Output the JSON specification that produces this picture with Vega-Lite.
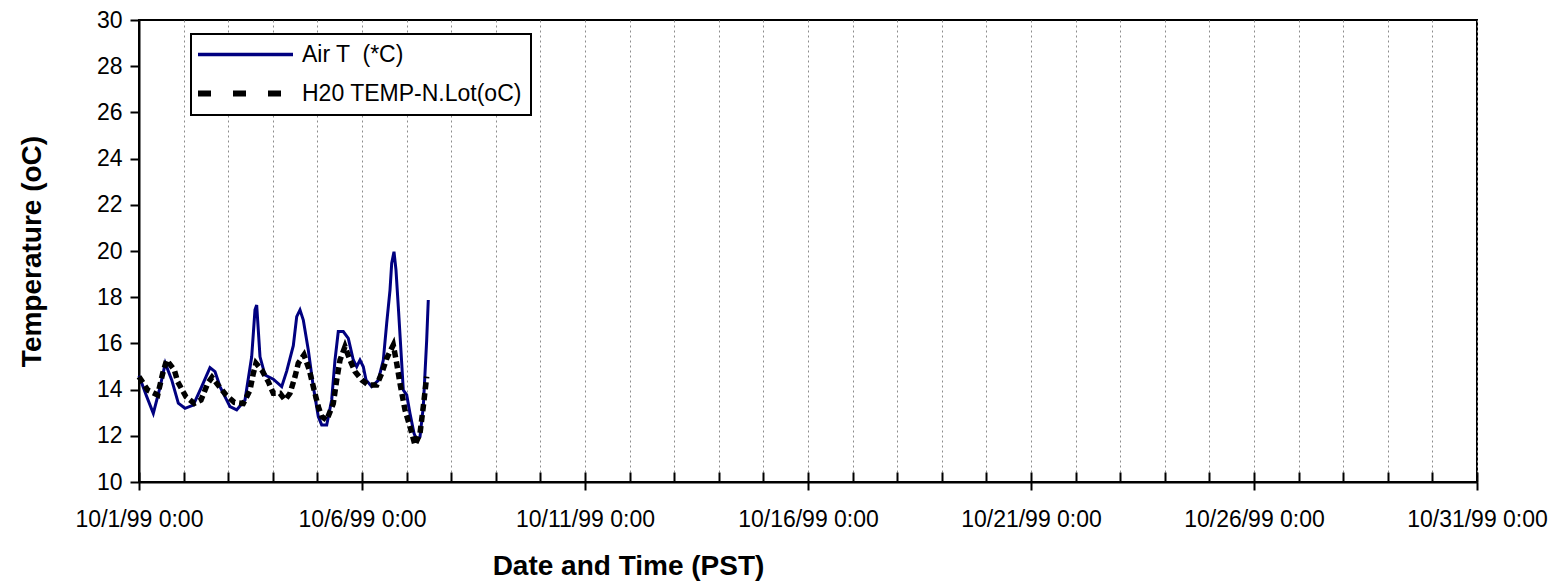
{
  "$schema": "https://vega.github.io/schema/vega-lite/v6.json",
  "width": 1338,
  "height": 462,
  "autosize": {"type": "none"},
  "padding": {"left": 139, "top": 20, "right": 79, "bottom": 102},
  "background": "white",
  "config": {
    "font": "Liberation Sans",
    "view": {"stroke": "black", "strokeWidth": 2},
    "axis": {"domainColor": "black", "domainWidth": 2, "tickColor": "black", "tickWidth": 2, "labelColor": "black", "titleColor": "black", "labelFont": "Liberation Sans", "titleFont": "Liberation Sans"}
  },
  "data": {
    "values": [
      {"t": "1999-10-01T00:00", "series": "Air T  (*C)", "v": 14.6},
      {"t": "1999-10-01T04:08", "series": "Air T  (*C)", "v": 13.7},
      {"t": "1999-10-01T07:42", "series": "Air T  (*C)", "v": 12.97},
      {"t": "1999-10-01T11:18", "series": "Air T  (*C)", "v": 14.1},
      {"t": "1999-10-01T14:09", "series": "Air T  (*C)", "v": 15.14},
      {"t": "1999-10-01T17:36", "series": "Air T  (*C)", "v": 14.42},
      {"t": "1999-10-01T21:09", "series": "Air T  (*C)", "v": 13.41},
      {"t": "1999-10-02T00:45", "series": "Air T  (*C)", "v": 13.19},
      {"t": "1999-10-02T05:13", "series": "Air T  (*C)", "v": 13.33},
      {"t": "1999-10-02T09:44", "series": "Air T  (*C)", "v": 14.13},
      {"t": "1999-10-02T14:12", "series": "Air T  (*C)", "v": 14.95},
      {"t": "1999-10-02T16:54", "series": "Air T  (*C)", "v": 14.78},
      {"t": "1999-10-02T19:35", "series": "Air T  (*C)", "v": 14.13},
      {"t": "1999-10-03T00:58", "series": "Air T  (*C)", "v": 13.26},
      {"t": "1999-10-03T04:34", "series": "Air T  (*C)", "v": 13.12},
      {"t": "1999-10-03T09:02", "series": "Air T  (*C)", "v": 13.55},
      {"t": "1999-10-03T12:38", "series": "Air T  (*C)", "v": 15.42},
      {"t": "1999-10-03T14:25", "series": "Air T  (*C)", "v": 17.45},
      {"t": "1999-10-03T15:20", "series": "Air T  (*C)", "v": 17.66},
      {"t": "1999-10-03T17:07", "series": "Air T  (*C)", "v": 15.42},
      {"t": "1999-10-03T19:48", "series": "Air T  (*C)", "v": 14.63},
      {"t": "1999-10-04T00:16", "series": "Air T  (*C)", "v": 14.45},
      {"t": "1999-10-04T04:47", "series": "Air T  (*C)", "v": 14.13},
      {"t": "1999-10-04T07:29", "series": "Air T  (*C)", "v": 14.8},
      {"t": "1999-10-04T11:02", "series": "Air T  (*C)", "v": 15.9},
      {"t": "1999-10-04T12:52", "series": "Air T  (*C)", "v": 17.16},
      {"t": "1999-10-04T14:38", "series": "Air T  (*C)", "v": 17.45},
      {"t": "1999-10-04T16:25", "series": "Air T  (*C)", "v": 17.01},
      {"t": "1999-10-04T19:06", "series": "Air T  (*C)", "v": 15.71},
      {"t": "1999-10-04T21:47", "series": "Air T  (*C)", "v": 14.13},
      {"t": "1999-10-05T00:29", "series": "Air T  (*C)", "v": 12.83},
      {"t": "1999-10-05T02:19", "series": "Air T  (*C)", "v": 12.47},
      {"t": "1999-10-05T05:00", "series": "Air T  (*C)", "v": 12.47},
      {"t": "1999-10-05T07:41", "series": "Air T  (*C)", "v": 13.55},
      {"t": "1999-10-05T09:28", "series": "Air T  (*C)", "v": 15.28},
      {"t": "1999-10-05T11:14", "series": "Air T  (*C)", "v": 16.51},
      {"t": "1999-10-05T13:56", "series": "Air T  (*C)", "v": 16.51},
      {"t": "1999-10-05T16:38", "series": "Air T  (*C)", "v": 16.22},
      {"t": "1999-10-05T19:19", "series": "Air T  (*C)", "v": 15.28},
      {"t": "1999-10-05T21:09", "series": "Air T  (*C)", "v": 14.99},
      {"t": "1999-10-05T22:55", "series": "Air T  (*C)", "v": 15.28},
      {"t": "1999-10-06T00:42", "series": "Air T  (*C)", "v": 14.99},
      {"t": "1999-10-06T02:09", "series": "Air T  (*C)", "v": 14.42},
      {"t": "1999-10-06T05:13", "series": "Air T  (*C)", "v": 14.13},
      {"t": "1999-10-06T08:46", "series": "Air T  (*C)", "v": 14.4},
      {"t": "1999-10-06T11:28", "series": "Air T  (*C)", "v": 15.28},
      {"t": "1999-10-06T13:17", "series": "Air T  (*C)", "v": 16.87},
      {"t": "1999-10-06T15:04", "series": "Air T  (*C)", "v": 18.31},
      {"t": "1999-10-06T15:59", "series": "Air T  (*C)", "v": 19.47},
      {"t": "1999-10-06T17:13", "series": "Air T  (*C)", "v": 19.97},
      {"t": "1999-10-06T18:17", "series": "Air T  (*C)", "v": 19.18},
      {"t": "1999-10-06T19:32", "series": "Air T  (*C)", "v": 17.59},
      {"t": "1999-10-06T21:22", "series": "Air T  (*C)", "v": 15.14},
      {"t": "1999-10-06T22:13", "series": "Air T  (*C)", "v": 13.98},
      {"t": "1999-10-07T00:03", "series": "Air T  (*C)", "v": 13.77},
      {"t": "1999-10-07T01:50", "series": "Air T  (*C)", "v": 12.97},
      {"t": "1999-10-07T03:59", "series": "Air T  (*C)", "v": 12.11},
      {"t": "1999-10-07T05:26", "series": "Air T  (*C)", "v": 11.82},
      {"t": "1999-10-07T07:13", "series": "Air T  (*C)", "v": 11.96},
      {"t": "1999-10-07T08:59", "series": "Air T  (*C)", "v": 13.26},
      {"t": "1999-10-07T10:49", "series": "Air T  (*C)", "v": 16.15},
      {"t": "1999-10-07T11:40", "series": "Air T  (*C)", "v": 17.88},
      {"t": "1999-10-01T00:00", "series": "H20 TEMP-N.Lot(oC)", "v": 14.56},
      {"t": "1999-10-01T04:41", "series": "H20 TEMP-N.Lot(oC)", "v": 13.98},
      {"t": "1999-10-01T10:04", "series": "H20 TEMP-N.Lot(oC)", "v": 13.77},
      {"t": "1999-10-01T12:45", "series": "H20 TEMP-N.Lot(oC)", "v": 14.7},
      {"t": "1999-10-01T14:54", "series": "H20 TEMP-N.Lot(oC)", "v": 15.28},
      {"t": "1999-10-01T19:00", "series": "H20 TEMP-N.Lot(oC)", "v": 14.85},
      {"t": "1999-10-01T20:50", "series": "H20 TEMP-N.Lot(oC)", "v": 14.34},
      {"t": "1999-10-02T01:17", "series": "H20 TEMP-N.Lot(oC)", "v": 13.69},
      {"t": "1999-10-02T05:45", "series": "H20 TEMP-N.Lot(oC)", "v": 13.4},
      {"t": "1999-10-02T09:22", "series": "H20 TEMP-N.Lot(oC)", "v": 13.55},
      {"t": "1999-10-02T12:58", "series": "H20 TEMP-N.Lot(oC)", "v": 14.27},
      {"t": "1999-10-02T15:17", "series": "H20 TEMP-N.Lot(oC)", "v": 14.53},
      {"t": "1999-10-02T19:13", "series": "H20 TEMP-N.Lot(oC)", "v": 14.13},
      {"t": "1999-10-02T22:49", "series": "H20 TEMP-N.Lot(oC)", "v": 13.77},
      {"t": "1999-10-03T03:17", "series": "H20 TEMP-N.Lot(oC)", "v": 13.45},
      {"t": "1999-10-03T08:07", "series": "H20 TEMP-N.Lot(oC)", "v": 13.4},
      {"t": "1999-10-03T11:44", "series": "H20 TEMP-N.Lot(oC)", "v": 13.98},
      {"t": "1999-10-03T13:30", "series": "H20 TEMP-N.Lot(oC)", "v": 14.7},
      {"t": "1999-10-03T14:57", "series": "H20 TEMP-N.Lot(oC)", "v": 15.14},
      {"t": "1999-10-03T18:02", "series": "H20 TEMP-N.Lot(oC)", "v": 14.85},
      {"t": "1999-10-03T21:35", "series": "H20 TEMP-N.Lot(oC)", "v": 14.34},
      {"t": "1999-10-04T00:16", "series": "H20 TEMP-N.Lot(oC)", "v": 13.84},
      {"t": "1999-10-04T03:52", "series": "H20 TEMP-N.Lot(oC)", "v": 13.84},
      {"t": "1999-10-04T06:34", "series": "H20 TEMP-N.Lot(oC)", "v": 13.55},
      {"t": "1999-10-04T09:15", "series": "H20 TEMP-N.Lot(oC)", "v": 13.84},
      {"t": "1999-10-04T11:57", "series": "H20 TEMP-N.Lot(oC)", "v": 14.56},
      {"t": "1999-10-04T13:43", "series": "H20 TEMP-N.Lot(oC)", "v": 15.14},
      {"t": "1999-10-04T16:47", "series": "H20 TEMP-N.Lot(oC)", "v": 15.5},
      {"t": "1999-10-04T19:38", "series": "H20 TEMP-N.Lot(oC)", "v": 14.85},
      {"t": "1999-10-04T21:47", "series": "H20 TEMP-N.Lot(oC)", "v": 14.13},
      {"t": "1999-10-05T00:29", "series": "H20 TEMP-N.Lot(oC)", "v": 13.26},
      {"t": "1999-10-05T02:19", "series": "H20 TEMP-N.Lot(oC)", "v": 12.83},
      {"t": "1999-10-05T05:00", "series": "H20 TEMP-N.Lot(oC)", "v": 12.68},
      {"t": "1999-10-05T08:33", "series": "H20 TEMP-N.Lot(oC)", "v": 13.4},
      {"t": "1999-10-05T10:23", "series": "H20 TEMP-N.Lot(oC)", "v": 14.42},
      {"t": "1999-10-05T12:10", "series": "H20 TEMP-N.Lot(oC)", "v": 15.28},
      {"t": "1999-10-05T14:51", "series": "H20 TEMP-N.Lot(oC)", "v": 15.86},
      {"t": "1999-10-05T17:32", "series": "H20 TEMP-N.Lot(oC)", "v": 15.28},
      {"t": "1999-10-05T20:14", "series": "H20 TEMP-N.Lot(oC)", "v": 14.78},
      {"t": "1999-10-05T23:50", "series": "H20 TEMP-N.Lot(oC)", "v": 14.42},
      {"t": "1999-10-06T03:23", "series": "H20 TEMP-N.Lot(oC)", "v": 14.2},
      {"t": "1999-10-06T07:55", "series": "H20 TEMP-N.Lot(oC)", "v": 14.2},
      {"t": "1999-10-06T10:36", "series": "H20 TEMP-N.Lot(oC)", "v": 14.7},
      {"t": "1999-10-06T13:17", "series": "H20 TEMP-N.Lot(oC)", "v": 15.35},
      {"t": "1999-10-06T16:50", "series": "H20 TEMP-N.Lot(oC)", "v": 15.93},
      {"t": "1999-10-06T18:40", "series": "H20 TEMP-N.Lot(oC)", "v": 15.14},
      {"t": "1999-10-06T20:26", "series": "H20 TEMP-N.Lot(oC)", "v": 14.27},
      {"t": "1999-10-06T23:08", "series": "H20 TEMP-N.Lot(oC)", "v": 13.12},
      {"t": "1999-10-07T01:50", "series": "H20 TEMP-N.Lot(oC)", "v": 12.39},
      {"t": "1999-10-07T04:31", "series": "H20 TEMP-N.Lot(oC)", "v": 11.6},
      {"t": "1999-10-07T07:13", "series": "H20 TEMP-N.Lot(oC)", "v": 12.11},
      {"t": "1999-10-07T08:59", "series": "H20 TEMP-N.Lot(oC)", "v": 13.26},
      {"t": "1999-10-07T10:49", "series": "H20 TEMP-N.Lot(oC)", "v": 14.56}
    ]
  },
  "layer": [
    {
      "transform": [{"filter": "datum.series === 'Air T  (*C)'"}],
      "mark": {"type": "line", "strokeWidth": 3, "interpolate": "linear"},
      "encoding": {
        "x": {
          "field": "t", "type": "temporal",
          "scale": {"domain": [{"year": 1999, "month": 10, "date": 1}, {"year": 1999, "month": 10, "date": 31}], "nice": false},
          "axis": {"orient": "bottom", "tickCount": {"interval": "day", "step": 1}, "labels": false, "title": null, "domain": false, "grid": true, "gridColor": "#8c8c8c", "gridDash": [2, 3], "gridWidth": 1, "tickSize": -10, "tickWidth": 2}
        },
        "y": {
          "field": "v", "type": "quantitative",
          "scale": {"domain": [10, 30], "nice": false, "zero": false},
          "axis": {"values": [10, 12, 14, 16, 18, 20, 22, 24, 26, 28, 30], "grid": false, "tickSize": 9, "labelPadding": 8, "labelFontSize": 23, "title": "Temperature (oC)", "titleFontSize": 28, "titleFontWeight": "bold", "titlePadding": 50}
        },
        "color": {
          "field": "series", "type": "nominal",
          "scale": {"domain": ["Air T  (*C)", "H20 TEMP-N.Lot(oC)"], "range": ["#000080", "#000000"]},
          "legend": {
            "orient": "none", "legendX": 52, "legendY": 14, "title": null, "direction": "vertical",
            "fillColor": "white", "strokeColor": "black", "padding": 9,
            "labelFontSize": 23, "labelFont": "Liberation Sans", "labelColor": "black", "labelLimit": 500,
            "labelExpr": "replace(datum.label, '  ', ' \u00a0')",
            "symbolType": "stroke", "symbolSize": 100, "labelOffset": 79, "rowPadding": 14,
            "encode": {
              "legend": {"update": {"strokeWidth": {"value": 2}}},
              "symbols": {"update": {"size": {"value": 9025}, "x": {"value": 45.5}, "strokeDash": {"signal": "datum.value === 'Air T  (*C)' ? [1, 0] : [13, 22]"}, "strokeWidth": {"signal": "datum.value === 'Air T  (*C)' ? 3.5 : 6"}}}
            }
          }
        }
      }
    },
    {
      "transform": [{"filter": "datum.series === 'H20 TEMP-N.Lot(oC)'"}],
      "mark": {"type": "line", "strokeWidth": 5.5, "strokeDash": [7, 4], "interpolate": "linear"},
      "encoding": {
        "x": {
          "field": "t", "type": "temporal",
          "axis": {"orient": "bottom", "tickCount": {"interval": "day", "step": 5}, "format": "%-m/%-d/%y %-H:%M", "grid": false, "tickSize": 8, "labelPadding": 18, "labelFontSize": 23, "labelFlush": false, "labelOverlap": false, "title": "Date and Time (PST)", "titleFontSize": 28, "titleFontWeight": "bold", "titlePadding": 21, "titleX": 489}
        },
        "y": {"field": "v", "type": "quantitative"},
        "color": {
          "field": "series", "type": "nominal",
          "scale": {"domain": ["Air T  (*C)", "H20 TEMP-N.Lot(oC)"], "range": ["#000080", "#000000"]},
          "legend": {
            "orient": "none", "legendX": 52, "legendY": 14, "title": null, "direction": "vertical",
            "fillColor": "white", "strokeColor": "black", "padding": 9,
            "labelFontSize": 23, "labelFont": "Liberation Sans", "labelColor": "black", "labelLimit": 500,
            "labelExpr": "replace(datum.label, '  ', ' \u00a0')",
            "symbolType": "stroke", "symbolSize": 100, "labelOffset": 79, "rowPadding": 14,
            "encode": {
              "legend": {"update": {"strokeWidth": {"value": 2}}},
              "symbols": {"update": {"size": {"value": 9025}, "x": {"value": 45.5}, "strokeDash": {"signal": "datum.value === 'Air T  (*C)' ? [1, 0] : [13, 22]"}, "strokeWidth": {"signal": "datum.value === 'Air T  (*C)' ? 3.5 : 6"}}}
            }
          }
        }
      }
    }
  ],
  "resolve": {"axis": {"x": "independent"}}
}
